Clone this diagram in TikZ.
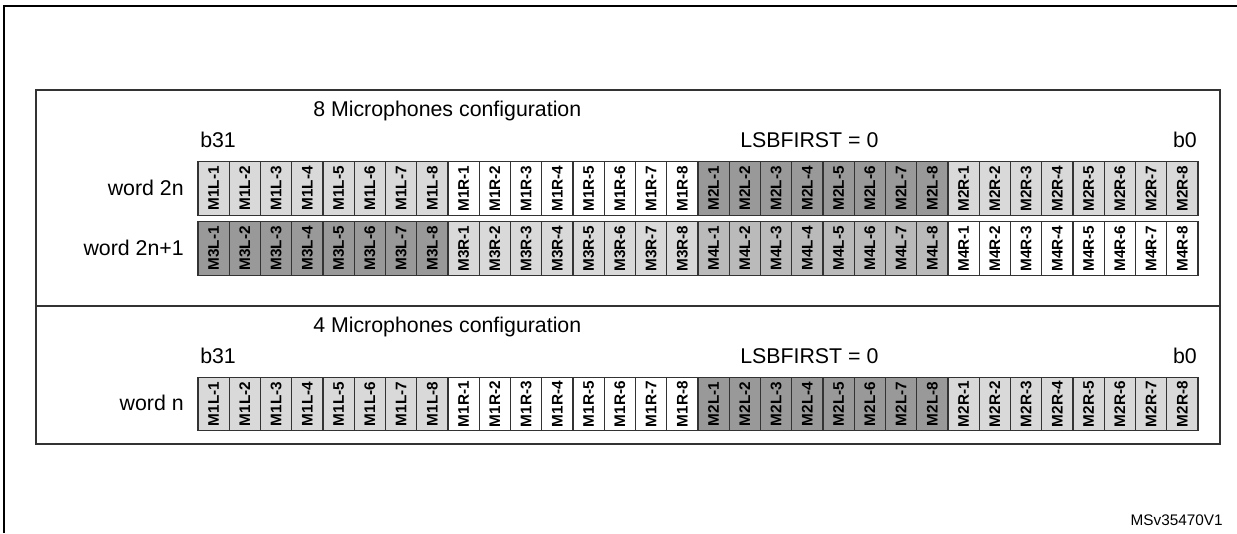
\documentclass[tikz,border=0pt]{standalone}
\usepackage{fontspec}
\setmainfont{Liberation Sans}
\usetikzlibrary{positioning}

\begin{document}
\begin{tikzpicture}[
    x=0.75pt, y=-0.75pt,
    cell/.style={draw=black!80, line width=0.9pt, minimum width=23.4pt, minimum height=40pt,
      inner sep=0pt, outer sep=0pt, font=\fontsize{11.5}{12}\selectfont\bfseries},
    light/.style={cell, fill=black!15},
    dark/.style={cell, fill=black!40},
    mid/.style={cell, fill=black!27},
    blank/.style={cell, fill=white},
    txt/.style={font=\fontsize{16}{18}\selectfont, inner sep=0pt},
    frame/.style={draw=black!80, line width=1pt}
  ]
  \useasboundingbox (0,0) rectangle (1237,533);

  % outer frame, cut at the right and bottom
  \draw[line width=1.6pt] (4,533) -- (4,6) -- (1237,6);

  % inner box
  \draw[frame] (36,90) rectangle (1220,444);
  \draw[frame] (36,306) -- (1220,306);

  % 8 microphones
  \node[txt, anchor=base west] (title8) at (313,116) {8 Microphones configuration};
  \node[txt, anchor=base west] (msb8) at (200,147) {b31};
  \node[txt, anchor=base west] (lsbf8) at (740,147) {LSBFIRST = 0};
  \node[txt, anchor=base east] (lsb8) at (1197,147) {b0};
  \node[txt, anchor=base east] (wa) at (184,195) {word 2n};
  \node[txt, anchor=base east] (wb) at (184,255) {word 2n+1};

  % 4 microphones
  \node[txt, anchor=base west] (title4) at (313,332) {4 Microphones configuration};
  \node[txt, anchor=base west] (msb4) at (200,363) {b31};
  \node[txt, anchor=base west] (lsbf4) at (740,363) {LSBFIRST = 0};
  \node[txt, anchor=base east] (lsb4) at (1197,363) {b0};
  \node[txt, anchor=base east] (wn) at (184,410) {word n};

  % cells
  \foreach \i in {1,...,8} {
    \node[light] (a\i)    at ({198+31.25*(\i-0.5)},188.5) {\rotatebox{90}{M1L-\i}};
    \node[blank] (a1\i)   at ({198+31.25*(\i+7.5)},188.5) {\rotatebox{90}{M1R-\i}};
    \node[dark]  (a2\i)   at ({198+31.25*(\i+15.5)},188.5) {\rotatebox{90}{M2L-\i}};
    \node[light] (a3\i)   at ({198+31.25*(\i+23.5)},188.5) {\rotatebox{90}{M2R-\i}};
    \node[dark]  (b\i)    at ({198+31.25*(\i-0.5)},248.5) {\rotatebox{90}{M3L-\i}};
    \node[light] (b1\i)   at ({198+31.25*(\i+7.5)},248.5) {\rotatebox{90}{M3R-\i}};
    \node[mid]   (b2\i)   at ({198+31.25*(\i+15.5)},248.5) {\rotatebox{90}{M4L-\i}};
    \node[blank] (b3\i)   at ({198+31.25*(\i+23.5)},248.5) {\rotatebox{90}{M4R-\i}};
    \node[light] (c\i)    at ({198+31.25*(\i-0.5)},404) {\rotatebox{90}{M1L-\i}};
    \node[blank] (c1\i)   at ({198+31.25*(\i+7.5)},404) {\rotatebox{90}{M1R-\i}};
    \node[dark]  (c2\i)   at ({198+31.25*(\i+15.5)},404) {\rotatebox{90}{M2L-\i}};
    \node[light] (c3\i)   at ({198+31.25*(\i+23.5)},404) {\rotatebox{90}{M2R-\i}};
  }

  \node[anchor=base east, inner sep=0pt, font=\fontsize{11.5}{13}\selectfont] (ref) at (1223,525) {MSv35470V1};
\end{tikzpicture}
\end{document}
